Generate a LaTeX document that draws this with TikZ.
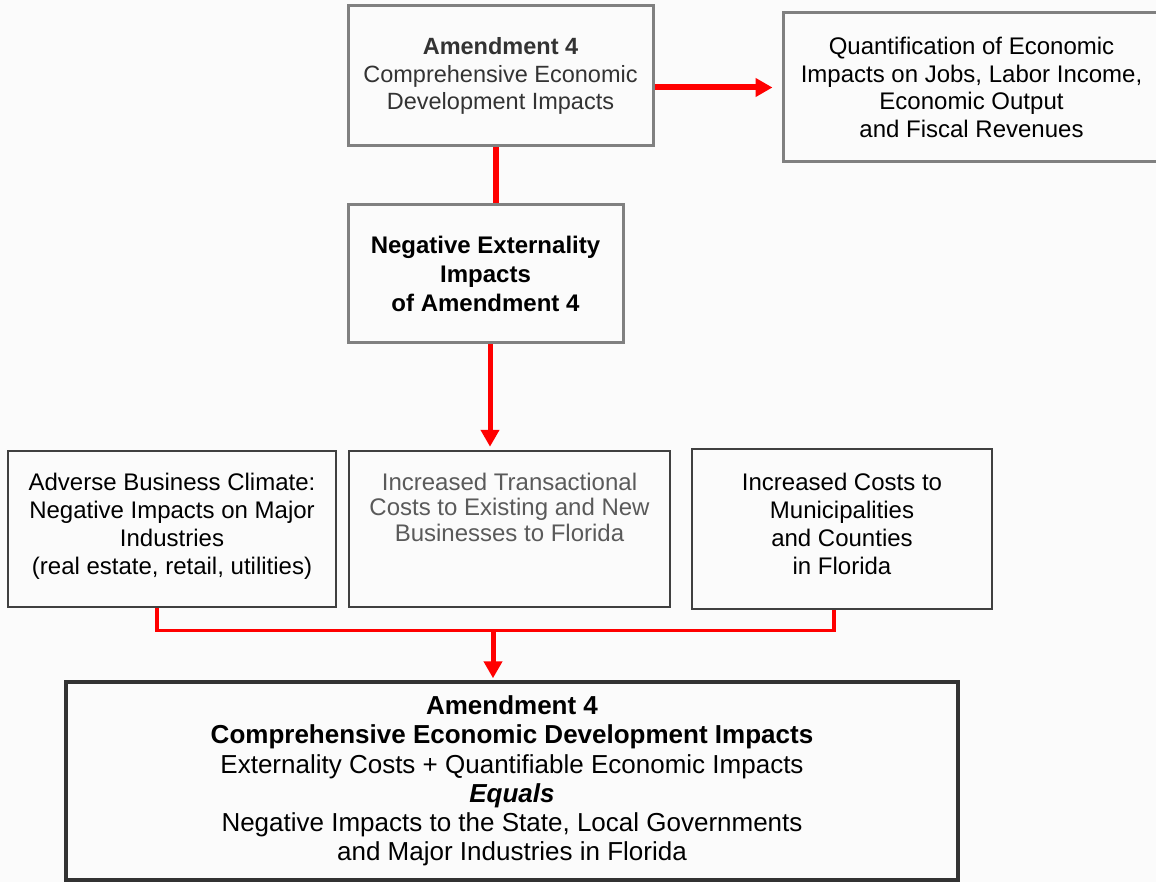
\documentclass[tikz,border=0pt]{standalone}
\usepackage{fontspec}
\setmainfont{Liberation Sans}
\usetikzlibrary{positioning, arrows.meta, calc}

\definecolor{paperC}{RGB}{251,251,251}
\definecolor{frameC}{RGB}{128,128,128}
\definecolor{edgeC}{RGB}{64,64,64}
\definecolor{sumC}{RGB}{51,51,51}
\definecolor{inkC}{RGB}{51,51,51}
\definecolor{fadeC}{RGB}{90,90,90}
\definecolor{linkC}{RGB}{255,0,0}

% text of the three boxes in the middle row, kept at the top
\newcommand{\rowtext}[2]{\parbox[c][112pt][t]{290pt}{\centering\fontsize{24}{#1}\selectfont #2}}

\begin{document}
\begin{tikzpicture}[x=1pt, y=-1pt,
    topbox/.style={draw=frameC, line width=3pt, inner sep=0pt, align=center,
                   text=inkC, font=\fontsize{23.5}{27.5}\selectfont},
    rowbox/.style={draw=edgeC, line width=2.5pt, inner sep=0pt, minimum height=156pt},
    sumbox/.style={draw=sumC, line width=3.5pt, inner sep=0pt, align=center,
                   minimum width=892pt, minimum height=198pt,
                   font=\fontsize{26}{29.2}\selectfont},
    link/.style={draw=linkC, line width=6pt},
    arrow/.style={-{Triangle[length=17pt, width=18pt]}}
]

% page
\fill[paperC] (0,0) rectangle (1156,882);
\useasboundingbox (0,0) rectangle (1156,882);

% top level
\node[topbox, minimum width=305pt, minimum height=140pt] (top) at (500.5,76)
  {\textbf{Amendment 4}\\Comprehensive Economic\\Development Impacts};
\node[topbox, text=black, font=\fontsize{24}{27.5}\selectfont,
      minimum width=377pt, minimum height=149pt] (quant) at (971.5,87.5)
  {Quantification of Economic\\Impacts on Jobs, Labor Income,\\Economic Output\\and Fiscal Revenues};

% externality
\node[topbox, text=black, font=\bfseries\fontsize{24}{29}\selectfont,
      minimum width=275pt, minimum height=138pt] (neg) at (485.5,274)
  {Negative Externality\\Impacts\\of Amendment 4};

% middle row
\node[rowbox, minimum width=328pt] (adv) at (172,529)
  {\rowtext{28}{Adverse Business Climate:\\Negative Impacts on Major\\Industries\\(real estate, retail, utilities)}};
\node[rowbox, minimum width=321pt] (trans) at (509.5,529)
  {\rowtext{25.5}{\color{fadeC}Increased Transactional\\Costs to Existing and New\\Businesses to Florida}};
\node[rowbox, minimum width=300pt, minimum height=160pt] (muni) at (842,529)
  {\rowtext{28}{Increased Costs to\\Municipalities\\and Counties\\in Florida}};

% result
\node[sumbox] (total) at (512,781)
  {\textbf{Amendment 4}\\\textbf{Comprehensive Economic Development Impacts}\\
   Externality Costs + Quantifiable Economic Impacts\\\textbf{\textit{Equals}}\\
   Negative Impacts to the State, Local Governments\\and Major Industries in Florida};

\coordinate (merge) at ($(total.north)+(-19,-50)$);

% connectors
\draw[link] ([xshift=-5pt]top.south) -- ([xshift=-5pt]top.south |- neg.north);
\draw[link, arrow, shorten >=9pt] (top.east |- quant.west) -- (quant.west);
\draw[link, line width=5pt, arrow, shorten >=3pt]
  ([xshift=4.5pt]neg.south) -- ([xshift=4.5pt]neg.south |- trans.north);
\draw[link, line width=3.5pt] ([xshift=-15pt]adv.south) |- (merge) -| ([xshift=-8pt]muni.south);
\draw[link, line width=5pt, arrow, shorten >=2pt] (merge) -- (merge |- total.north);

\end{tikzpicture}
\end{document}
